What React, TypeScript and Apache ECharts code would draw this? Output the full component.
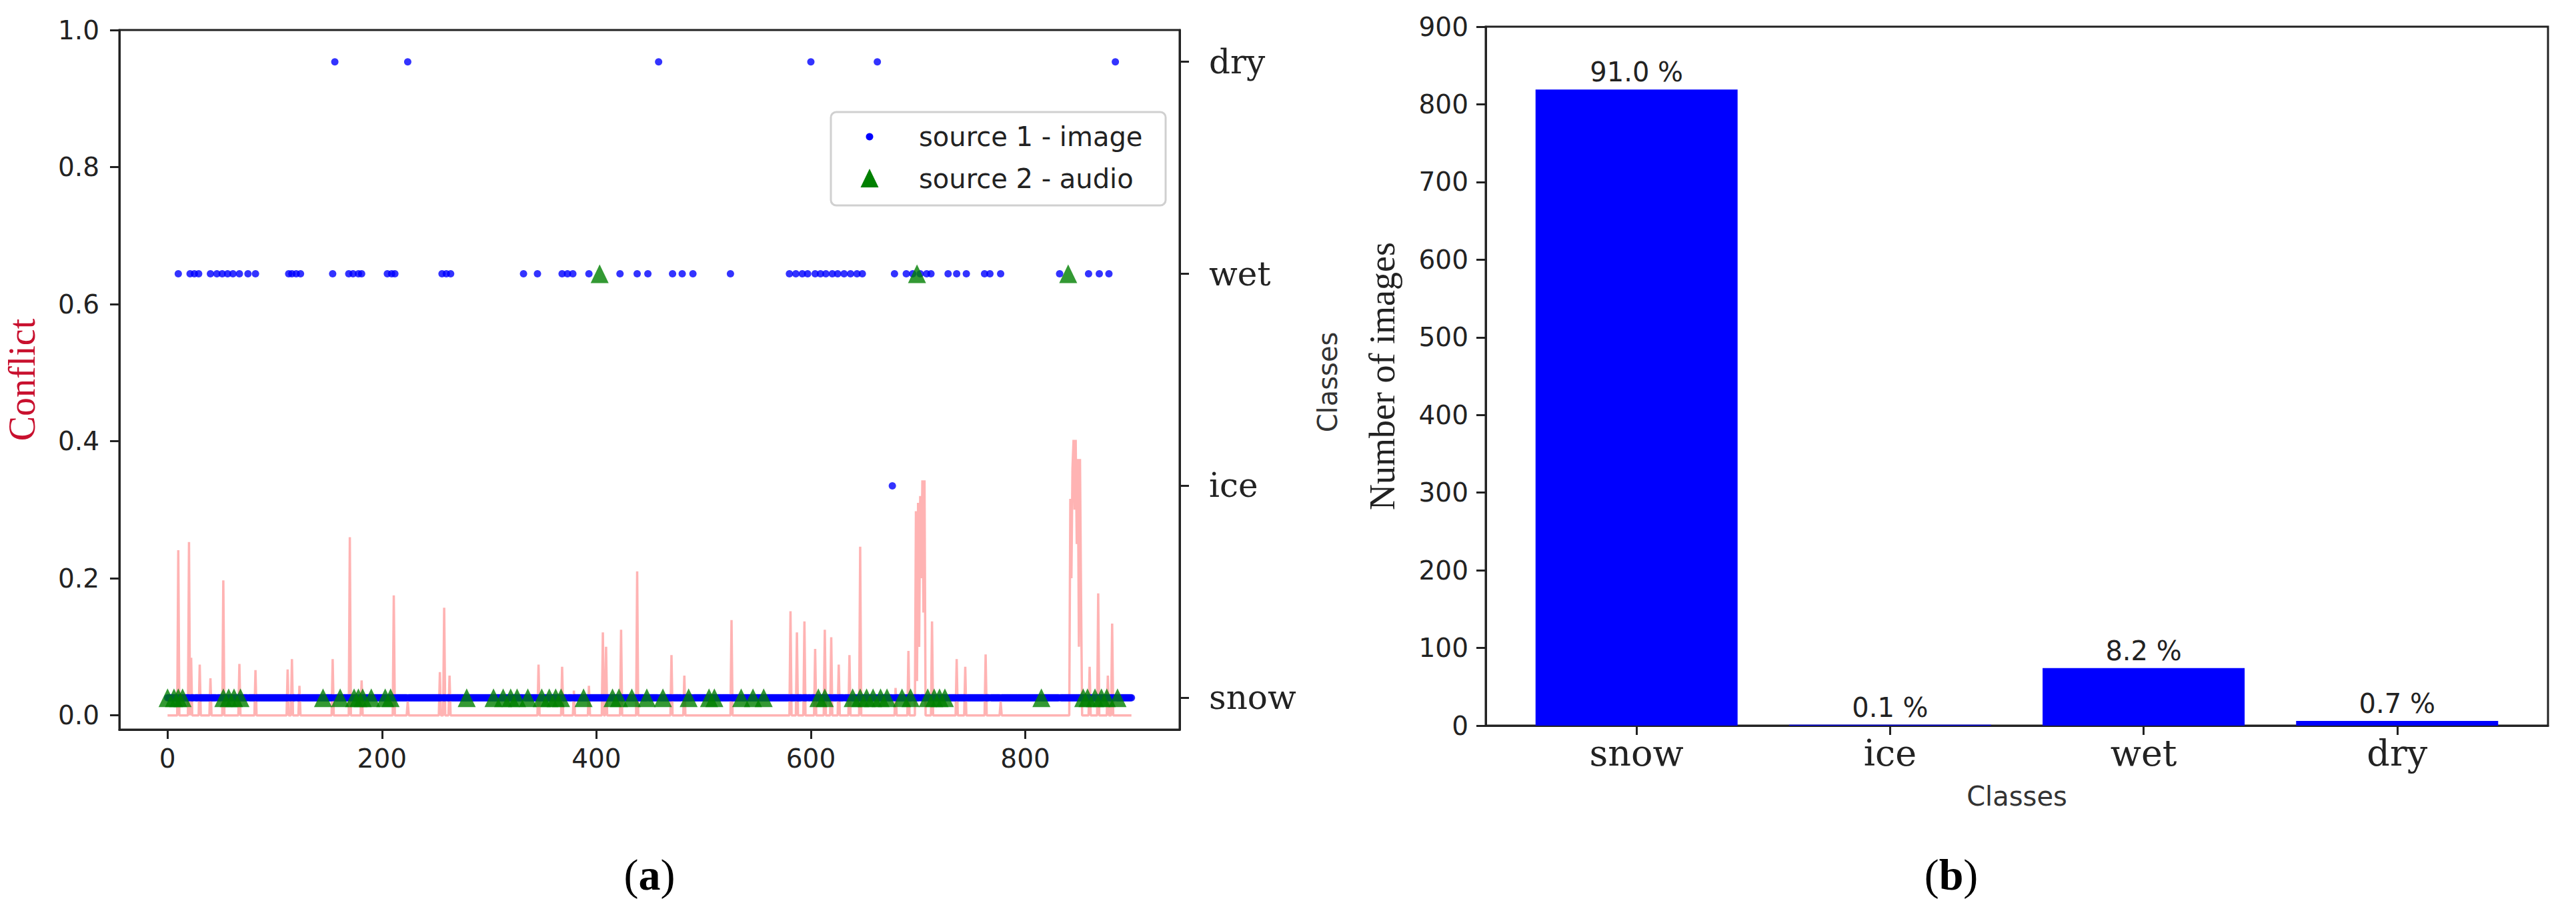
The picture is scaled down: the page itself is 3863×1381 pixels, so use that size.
import React, { useEffect, useRef } from "react";
import * as echarts from "echarts";

// ---------- data ----------
const CLASSES = ["snow", "ice", "wet", "dry"];
const N_SAMPLES = 900; // samples 0..899

// source 1 (image) classifications that are not "snow"
const imageDry = [156, 224, 458, 600, 662, 884];
const imageIce = [676];
const imageWet = [
  10, 21, 25, 29, 40, 46, 51, 56, 61, 67, 75, 82, 113, 116, 120, 124, 154, 169, 173,
  178, 181, 205, 209, 212, 256, 260, 264, 332, 345, 368, 373, 378, 393, 422, 438, 448,
  471, 480, 490, 525, 580, 586, 592, 597, 604, 609, 614, 620, 625, 631, 637, 643, 648,
  678, 689, 695, 702, 708, 712, 728, 736, 745, 762, 767, 777, 832, 859, 869, 878,
];

// source 2 (audio) samples
const audioWet = [403, 699, 840];
const audioSnow = [
  0, 6, 10, 14, 52, 57, 62, 68, 145, 161, 174, 178, 182, 190, 203, 208, 279, 304, 313,
  320, 326, 336, 349, 356, 362, 367, 388, 415, 421, 433, 447, 462, 486, 505, 510, 535,
  546, 556, 607, 613, 639, 646, 652, 658, 665, 671, 685, 693, 709, 715, 720, 725, 815,
  854, 858, 865, 871, 876, 886,
];

// conflict: [sample index, value]; other samples sit at 0
const conflictSpikes: [number, number][] = [
  [10, 0.241], [20, 0.253], [22, 0.084], [30, 0.074], [40, 0.054], [52, 0.197],
  [67, 0.075], [82, 0.066], [112, 0.067], [116, 0.082], [123, 0.043], [154, 0.082],
  [170, 0.26], [181, 0.051], [211, 0.175], [224, 0.02], [254, 0.063], [258, 0.157],
  [263, 0.058], [346, 0.074], [368, 0.071], [379, 0.036], [393, 0.043], [406, 0.121],
  [409, 0.1], [423, 0.125], [438, 0.21], [470, 0.088], [482, 0.058], [526, 0.139],
  [581, 0.152], [587, 0.121], [594, 0.137], [604, 0.097], [613, 0.125], [619, 0.114],
  [626, 0.074], [636, 0.088], [646, 0.246], [679, 0.04], [691, 0.094], [698, 0.298],
  [699, 0.05], [700, 0.31], [701, 0.1], [702, 0.32], [703, 0.2], [704, 0.343],
  [705, 0.15], [706, 0.343], [713, 0.137], [736, 0.082], [744, 0.071], [763, 0.089],
  [777, 0.02], [842, 0.316], [843, 0.2], [844, 0.36], [845, 0.402], [846, 0.3],
  [847, 0.402], [848, 0.25], [849, 0.374], [850, 0.1], [851, 0.374], [852, 0.174],
  [860, 0.071], [868, 0.178], [877, 0.058], [881, 0.134],
];

// panel (b)
const barCounts = [819, 1, 74, 6];
const barPercents = ["91.0 %", "0.1 %", "8.2 %", "0.7 %"];

const leftXTicks = [0, 200, 400, 600, 800];
const leftYTicks = [0, 0.2, 0.4, 0.6, 0.8, 1.0];
const classTicks = [0, 1, 2, 3];

// ---------- derived series ----------
function imageClass(i: number): number {
  if (imageDry.includes(i)) return 3;
  if (imageIce.includes(i)) return 1;
  if (imageWet.includes(i)) return 2;
  return 0;
}

const spikeMap = new Map<number, number>(conflictSpikes);
const conflictData: [number, number][] = [];
const imageData: [number, number][] = [];
for (let i = 0; i < N_SAMPLES; i++) {
  conflictData.push([i, spikeMap.get(i) ?? 0]);
  imageData.push([i, imageClass(i)]);
}
const audioData: [number, number][] = [
  ...audioSnow.map((i) => [i, 0] as [number, number]),
  ...audioWet.map((i) => [i, 2] as [number, number]),
];
const barData = barCounts.map((c, i) => [i, c]);

const DARK = "#222";
const SANS = "DejaVu Sans";
const SERIF = "DejaVu Serif";
const TIMES = "Liberation Serif";

export default function App() {
  const ref = useRef<HTMLDivElement>(null);

  useEffect(() => {
    if (!ref.current) return;
    const chart = echarts.init(ref.current, undefined, { renderer: "svg" });

    const axisLine = { show: true, onZero: false, lineStyle: { color: DARK, width: 3 } };
    const tick = (vals: number[]) => ({
      show: true,
      length: 14,
      lineStyle: { color: DARK, width: 3 },
      customValues: vals,
    });

    chart.setOption({
      animation: false,
      backgroundColor: "#fff",
      grid: [
        { left: 179, top: 45, width: 1590, height: 1049, show: true, borderColor: DARK, borderWidth: 3 },
        { left: 2228, top: 40, width: 1593, height: 1048, show: true, borderColor: DARK, borderWidth: 3 },
      ],
      xAxis: [
        {
          gridIndex: 0,
          type: "value",
          min: -44.95,
          max: 943.95,
          axisLine,
          axisTick: tick(leftXTicks),
          splitLine: { show: false },
          axisLabel: {
            customValues: leftXTicks,
            fontFamily: SANS,
            fontSize: 39,
            color: DARK,
            margin: 24,
          },
        },
        {
          gridIndex: 1,
          type: "value",
          min: -0.595,
          max: 3.595,
          axisLine,
          axisTick: tick(classTicks),
          splitLine: { show: false },
          axisLabel: {
            customValues: classTicks,
            formatter: (v: number) => CLASSES[Math.round(v)],
            fontFamily: SERIF,
            fontSize: 54,
            color: DARK,
            margin: 14,
          },
          name: "Classes",
          nameLocation: "middle",
          nameGap: 86,
          nameTextStyle: { fontFamily: SANS, fontSize: 40, color: "#333" },
        },
      ],
      yAxis: [
        {
          gridIndex: 0,
          type: "value",
          min: -0.0208,
          max: 1.0,
          axisLine,
          axisTick: tick(leftYTicks),
          splitLine: { show: false },
          axisLabel: {
            customValues: leftYTicks,
            formatter: (v: number) => v.toFixed(1),
            fontFamily: SANS,
            fontSize: 39,
            color: DARK,
            margin: 30,
          },
          name: "Conflict",
          nameLocation: "middle",
          nameGap: 118,
          nameTextStyle: { fontFamily: TIMES, fontSize: 56, color: "#c8102e" },
        },
        {
          gridIndex: 0,
          type: "value",
          position: "right",
          min: -0.15,
          max: 3.15,
          axisLine,
          axisTick: tick(classTicks),
          splitLine: { show: false },
          axisLabel: {
            customValues: classTicks,
            formatter: (v: number) => CLASSES[Math.round(v)],
            fontFamily: SERIF,
            fontSize: 50,
            color: DARK,
            margin: 44,
          },
        },
        {
          gridIndex: 1,
          type: "value",
          min: 0,
          max: 900,
          interval: 100,
          axisLine,
          axisTick: { show: true, length: 14, lineStyle: { color: DARK, width: 3 } },
          splitLine: { show: false },
          axisLabel: { fontFamily: SANS, fontSize: 39, color: DARK, margin: 26 },
          name: "Number of images",
          nameLocation: "middle",
          nameGap: 128,
          nameTextStyle: { fontFamily: TIMES, fontSize: 54, color: DARK },
        },
      ],
      series: [
        {
          name: "conflict",
          type: "line",
          xAxisIndex: 0,
          yAxisIndex: 0,
          data: conflictData,
          showSymbol: false,
          symbol: "none",
          lineStyle: { color: "#ffb3b3", width: 3.5 },
          z: 1,
        },
        {
          name: "source 1 - image",
          type: "scatter",
          xAxisIndex: 0,
          yAxisIndex: 1,
          data: imageData,
          symbol: "circle",
          symbolSize: 11,
          itemStyle: { color: "#0000ff" },
          z: 2,
        },
        {
          name: "source 2 - audio",
          type: "scatter",
          xAxisIndex: 0,
          yAxisIndex: 1,
          data: audioData,
          symbol: "triangle",
          symbolSize: [27, 28],
          itemStyle: { color: "#008000" },
          z: 3,
        },
        {
          name: "count",
          type: "bar",
          xAxisIndex: 1,
          yAxisIndex: 2,
          data: barData,
          barWidth: 303,
          itemStyle: { color: "#0000ff" },
          label: {
            show: true,
            position: "top",
            distance: 6,
            formatter: (p: any) => barPercents[p.dataIndex],
            fontFamily: SANS,
            fontSize: 40,
            color: DARK,
          },
        },
      ],
      graphic: [
        {
          type: "group",
          children: [
            {
              type: "rect",
              shape: { x: 1246, y: 168, width: 502, height: 140, r: 8 },
              style: { fill: "#fff", stroke: "#d0d0d0", lineWidth: 3 },
              z: 10,
            },
            {
              type: "circle",
              shape: { cx: 1304, cy: 205, r: 5.5 },
              style: { fill: "#0000ff" },
              z: 11,
            },
            {
              type: "polygon",
              shape: { points: [[1290.5, 281], [1317.5, 281], [1304, 253]] },
              style: { fill: "#008000" },
              z: 11,
            },
            {
              type: "text",
              x: 1378,
              y: 205,
              style: {
                text: "source 1 - image",
                fontFamily: SANS,
                fontSize: 40,
                fill: DARK,
                align: "left",
                verticalAlign: "middle",
              },
              z: 11,
            },
            {
              type: "text",
              x: 1378,
              y: 268,
              style: {
                text: "source 2 - audio",
                fontFamily: SANS,
                fontSize: 40,
                fill: DARK,
                align: "left",
                verticalAlign: "middle",
              },
              z: 11,
            },
          ],
        },
        {
          type: "text",
          x: 1991,
          y: 573,
          rotation: Math.PI / 2,
          style: {
            text: "Classes",
            fontFamily: SANS,
            fontSize: 40,
            fill: "#333",
            align: "center",
            verticalAlign: "middle",
          },
        },
        {
          type: "text",
          x: 974,
          y: 1311,
          style: {
            text: "{p|(}{b|a}{p|)}",
            align: "center",
            verticalAlign: "middle",
            rich: {
              p: { fontFamily: TIMES, fontSize: 66, fill: "#000" },
              b: { fontFamily: TIMES, fontSize: 66, fontWeight: "bold", fill: "#000" },
            },
          },
        },
        {
          type: "text",
          x: 2926,
          y: 1311,
          style: {
            text: "{p|(}{b|b}{p|)}",
            align: "center",
            verticalAlign: "middle",
            rich: {
              p: { fontFamily: TIMES, fontSize: 66, fill: "#000" },
              b: { fontFamily: TIMES, fontSize: 66, fontWeight: "bold", fill: "#000" },
            },
          },
        },
      ],
    });

    return () => chart.dispose();
  }, []);

  return (
    <div
      ref={ref}
      style={{ position: "fixed", left: 0, top: 0, width: 3863, height: 1381, background: "#fff" }}
    />
  );
}
